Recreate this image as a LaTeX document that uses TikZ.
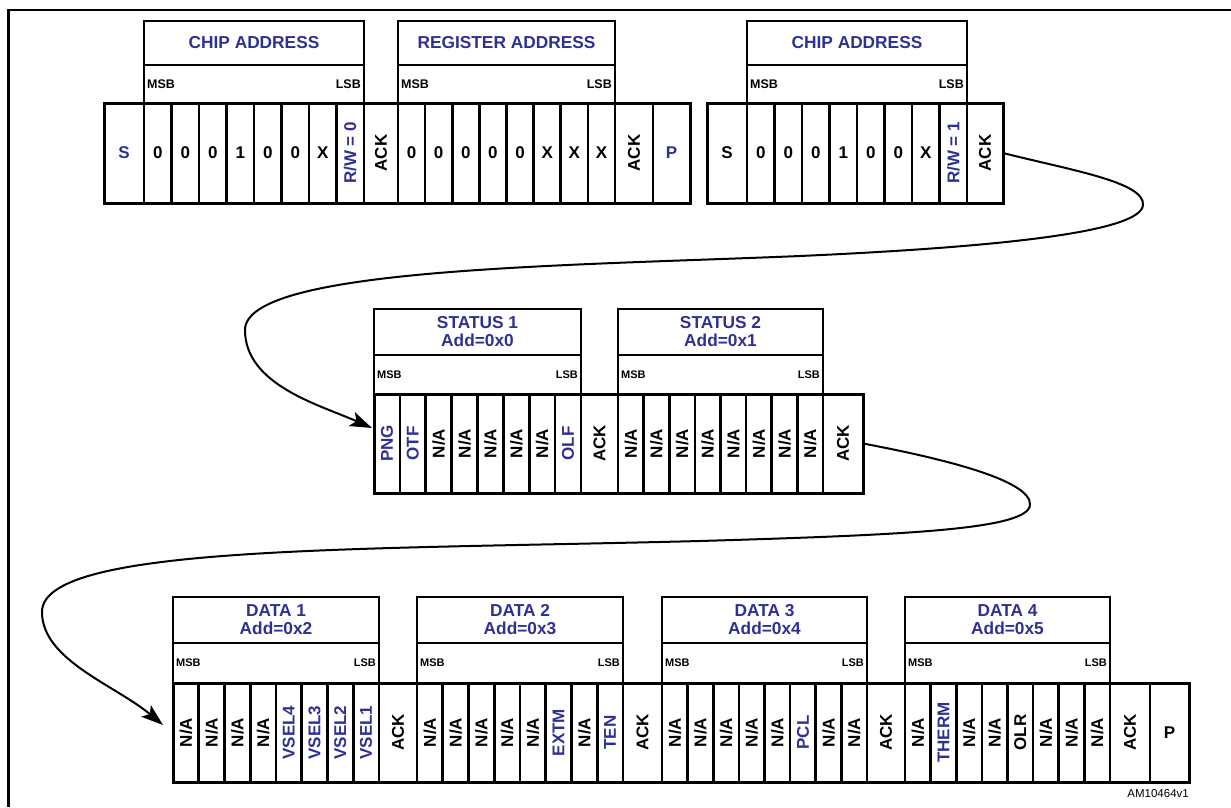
\documentclass[tikz,border=0pt]{standalone}
\usepackage{fontspec}
\setmainfont{Liberation Sans}
\usepackage{graphicx}
\usetikzlibrary{arrows.meta}
\definecolor{stblue}{RGB}{46,49,146}
\newcommand{\rotK}[1]{\rotatebox{90}{#1}}
\newcommand{\rotB}[1]{\rotatebox{90}{\textcolor{stblue}{#1}}}
\newcommand{\uprB}[1]{\textcolor{stblue}{#1}}
\begin{document}
\begin{tikzpicture}[x=1pt,y=-1pt,
 cell/.style={draw, line width=2.6pt, inner sep=0pt, outer sep=0pt, font=\fontsize{17}{18}\selectfont\bfseries},
 hdr/.style={draw, line width=2.2pt, inner sep=0pt, outer sep=0pt, text=stblue, align=center, font=\fontsize{17.3}{18}\selectfont\bfseries},
 subhdr/.style={draw, line width=2.2pt, inner sep=0pt, outer sep=0pt},
 msbtop/.style={inner sep=0pt, font=\fontsize{12.5}{13}\selectfont\bfseries},
 msb/.style={inner sep=0pt, font=\fontsize{11}{12}\selectfont\bfseries},
 rowframe/.style={line width=3pt},
 flow/.style={line width=2pt, -{Stealth[length=22pt,width=15pt,inset=5pt]}}]
\useasboundingbox (0,0) rectangle (1231,807);
% outer frame
\draw[line width=2.5pt] (8.7,807) -- (8.7,9.8) -- (1231,9.8);

% ---------- top row headers ----------
\node[hdr, minimum width=220pt, minimum height=44pt] (h1) at (254,43) {CHIP ADDRESS};
\node[subhdr, minimum width=220pt, minimum height=38pt] (h1s) at (254,84) {};
\node[msbtop, anchor=west] (h1m) at ([xshift=3pt]h1s.west) {MSB};
\node[msbtop, anchor=east] (h1l) at ([xshift=-3pt]h1s.east) {LSB};

\node[hdr, minimum width=217pt, minimum height=44pt] (h2) at (506.5,43) {REGISTER ADDRESS};
\node[subhdr, minimum width=217pt, minimum height=38pt] (h2s) at (506.5,84) {};
\node[msbtop, anchor=west] (h2m) at ([xshift=3pt]h2s.west) {MSB};
\node[msbtop, anchor=east] (h2l) at ([xshift=-3pt]h2s.east) {LSB};

\node[hdr, minimum width=220pt, minimum height=44pt] (h3) at (857,43) {CHIP ADDRESS};
\node[subhdr, minimum width=220pt, minimum height=38pt] (h3s) at (857,84) {};
\node[msbtop, anchor=west] (h3m) at ([xshift=3pt]h3s.west) {MSB};
\node[msbtop, anchor=east] (h3l) at ([xshift=-3pt]h3s.east) {LSB};

% ---------- top row cells ----------
\node[cell, minimum width=40pt, minimum height=100pt] (s1) at (124,153) {\uprB{S}};
\foreach \lbl [count=\i from 0] in {0,0,0,1,0,0,X,{\rotB{R/W = 0}}}
  \node[cell, minimum width=27.5pt, minimum height=100pt] (ca\i) at ({144+27.5*(\i+0.5)},153) {\lbl};
\node[cell, minimum width=34pt, minimum height=100pt] (ack1) at (381,153) {\rotK{ACK}};
\foreach \lbl [count=\i from 0] in {0,0,0,0,0,X,X,X}
  \node[cell, minimum width=27.125pt, minimum height=100pt] (ra\i) at ({398+27.125*(\i+0.5)},153) {\lbl};
\node[cell, minimum width=38pt, minimum height=100pt] (ack2) at (634,153) {\rotK{ACK}};
\node[cell, minimum width=37pt, minimum height=100pt] (p1) at (671.5,153) {\uprB{P}};
\draw[rowframe] (104,103) rectangle (690,203);

\node[cell, minimum width=40pt, minimum height=100pt] (s2) at (727,153) {S};
\foreach \lbl [count=\i from 0] in {0,0,0,1,0,0,X,{\rotB{R/W = 1}}}
  \node[cell, minimum width=27.5pt, minimum height=100pt] (cb\i) at ({747+27.5*(\i+0.5)},153) {\lbl};
\node[cell, minimum width=36pt, minimum height=100pt] (ack3) at (985,153) {\rotK{ACK}};
\draw[rowframe] (707,103) rectangle (1003,203);

% ---------- middle row ----------
\node[hdr, minimum width=207pt, minimum height=46pt] (h4) at (477.5,332) {STATUS 1\\Add=0x0};
\node[subhdr, minimum width=207pt, minimum height=39pt] (h4s) at (477.5,374.5) {};
\node[msb, anchor=west] (h4m) at ([xshift=3pt]h4s.west) {MSB};
\node[msb, anchor=east] (h4l) at ([xshift=-3pt]h4s.east) {LSB};

\node[hdr, minimum width=205pt, minimum height=46pt] (h5) at (720.5,332) {STATUS 2\\Add=0x1};
\node[subhdr, minimum width=205pt, minimum height=39pt] (h5s) at (720.5,374.5) {};
\node[msb, anchor=west] (h5m) at ([xshift=3pt]h5s.west) {MSB};
\node[msb, anchor=east] (h5l) at ([xshift=-3pt]h5s.east) {LSB};

\foreach \lbl [count=\i from 0] in {{\rotB{PNG}},{\rotB{OTF}},{\rotK{N/A}},{\rotK{N/A}},{\rotK{N/A}},{\rotK{N/A}},{\rotK{N/A}},{\rotB{OLF}}}
  \node[cell, minimum width=25.875pt, minimum height=99pt] (sa\i) at ({374+25.875*(\i+0.5)},443.5) {\lbl};
\node[cell, minimum width=37pt, minimum height=99pt] (ack4) at (599.5,443.5) {\rotK{ACK}};
\foreach \lbl [count=\i from 0] in {{\rotK{N/A}},{\rotK{N/A}},{\rotK{N/A}},{\rotK{N/A}},{\rotK{N/A}},{\rotK{N/A}},{\rotK{N/A}},{\rotK{N/A}}}
  \node[cell, minimum width=25.625pt, minimum height=99pt] (sb\i) at ({618+25.625*(\i+0.5)},443.5) {\lbl};
\node[cell, minimum width=40pt, minimum height=99pt] (ack5) at (843,443.5) {\rotK{ACK}};
\draw[rowframe] (374,394) rectangle (863,493);

% ---------- bottom row ----------
\node[hdr, minimum width=206pt, minimum height=46pt] (h6) at (276,620) {DATA 1\\Add=0x2};
\node[subhdr, minimum width=206pt, minimum height=40pt] (h6s) at (276,663) {};
\node[msb, anchor=west] (h6m) at ([xshift=3pt]h6s.west) {MSB};
\node[msb, anchor=east] (h6l) at ([xshift=-3pt]h6s.east) {LSB};

\node[hdr, minimum width=206pt, minimum height=46pt] (h7) at (520,620) {DATA 2\\Add=0x3};
\node[subhdr, minimum width=206pt, minimum height=40pt] (h7s) at (520,663) {};
\node[msb, anchor=west] (h7m) at ([xshift=3pt]h7s.west) {MSB};
\node[msb, anchor=east] (h7l) at ([xshift=-3pt]h7s.east) {LSB};

\node[hdr, minimum width=205pt, minimum height=46pt] (h8) at (764.5,620) {DATA 3\\Add=0x4};
\node[subhdr, minimum width=205pt, minimum height=40pt] (h8s) at (764.5,663) {};
\node[msb, anchor=west] (h8m) at ([xshift=3pt]h8s.west) {MSB};
\node[msb, anchor=east] (h8l) at ([xshift=-3pt]h8s.east) {LSB};

\node[hdr, minimum width=205pt, minimum height=46pt] (h9) at (1007.5,620) {DATA 4\\Add=0x5};
\node[subhdr, minimum width=205pt, minimum height=40pt] (h9s) at (1007.5,663) {};
\node[msb, anchor=west] (h9m) at ([xshift=3pt]h9s.west) {MSB};
\node[msb, anchor=east] (h9l) at ([xshift=-3pt]h9s.east) {LSB};

\foreach \lbl [count=\i from 0] in {{\rotK{N/A}},{\rotK{N/A}},{\rotK{N/A}},{\rotK{N/A}},{\rotB{VSEL4}},{\rotB{VSEL3}},{\rotB{VSEL2}},{\rotB{VSEL1}}}
  \node[cell, minimum width=25.75pt, minimum height=99pt] (da\i) at ({173+25.75*(\i+0.5)},732.5) {\lbl};
\node[cell, minimum width=38pt, minimum height=99pt] (ack6) at (398,732.5) {\rotK{ACK}};
\foreach \lbl [count=\i from 0] in {{\rotK{N/A}},{\rotK{N/A}},{\rotK{N/A}},{\rotK{N/A}},{\rotK{N/A}},{\rotB{EXTM}},{\rotK{N/A}},{\rotB{TEN}}}
  \node[cell, minimum width=25.75pt, minimum height=99pt] (db\i) at ({417+25.75*(\i+0.5)},732.5) {\lbl};
\node[cell, minimum width=39pt, minimum height=99pt] (ack7) at (642.5,732.5) {\rotK{ACK}};
\foreach \lbl [count=\i from 0] in {{\rotK{N/A}},{\rotK{N/A}},{\rotK{N/A}},{\rotK{N/A}},{\rotK{N/A}},{\rotB{PCL}},{\rotK{N/A}},{\rotK{N/A}}}
  \node[cell, minimum width=25.625pt, minimum height=99pt] (dc\i) at ({662+25.625*(\i+0.5)},732.5) {\lbl};
\node[cell, minimum width=38pt, minimum height=99pt] (ack8) at (886,732.5) {\rotK{ACK}};
\foreach \lbl [count=\i from 0] in {{\rotK{N/A}},{\rotB{THERM}},{\rotK{N/A}},{\rotK{N/A}},{\rotK{OLR}},{\rotK{N/A}},{\rotK{N/A}},{\rotK{N/A}}}
  \node[cell, minimum width=25.625pt, minimum height=99pt] (dd\i) at ({905+25.625*(\i+0.5)},732.5) {\lbl};
\node[cell, minimum width=40pt, minimum height=99pt] (ack9) at (1130,732.5) {\rotK{ACK}};
\node[cell, minimum width=39pt, minimum height=99pt] (p2) at (1169.5,732.5) {P};
\draw[rowframe] (173,683) rectangle (1189,782);

% ---------- connectors ----------
\coordinate (t1) at (372,428);
\coordinate (t2) at (163,725);
\draw[flow] (ack3.east) .. controls (1070,170) and (1145,182) .. (1143,205)
  .. controls (1141,232) and (1000,247) .. (800,256)
  .. controls (560,266) and (245,268) .. (245,330)
  .. controls (245,385) and (320,405) .. (t1);
\draw[flow] (ack5.east) .. controls (940,458) and (1032,480) .. (1030,505)
  .. controls (1028,530) and (900,535) .. (700,541)
  .. controls (350,550) and (42,545) .. (42,612)
  .. controls (42,660) and (115,685) .. (t2);

\node[anchor=east, inner sep=0pt, font=\fontsize{11.5}{12}\selectfont] (am) at (1189,794) {AM10464v1};
\end{tikzpicture}
\end{document}
